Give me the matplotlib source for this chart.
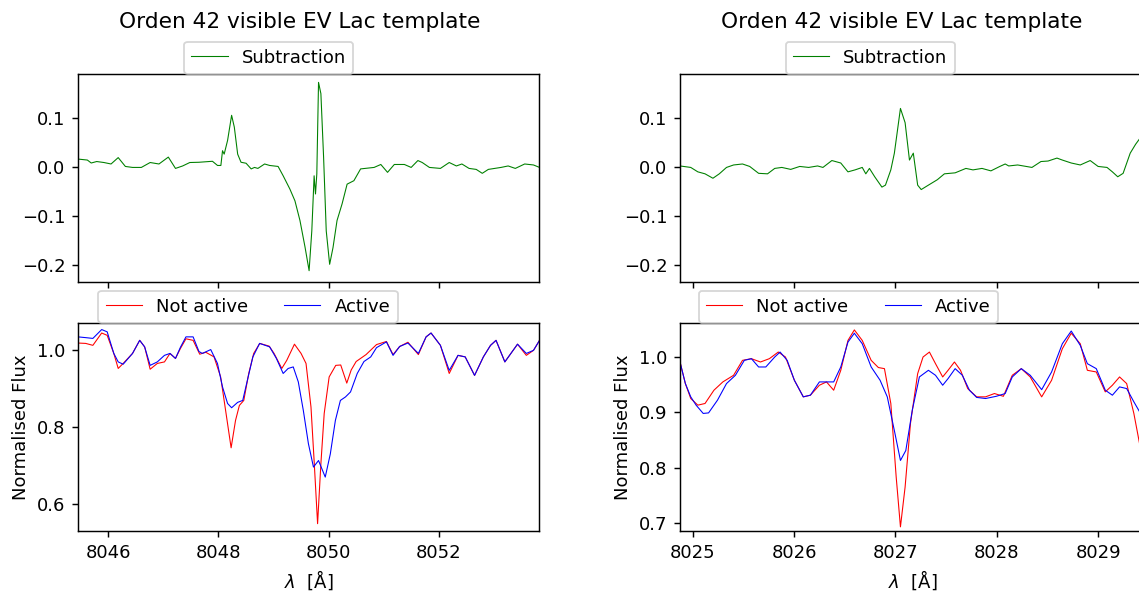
import matplotlib
matplotlib.use("Agg")
import matplotlib.pyplot as plt

# ---- Orden 42, left window (around 8050 A) ----
sub_left_wl = [8045.45, 8045.62, 8045.69, 8045.79, 8045.92, 8046.05, 8046.18, 8046.31, 8046.44, 8046.60,
               8046.76, 8046.92, 8047.09, 8047.22, 8047.35, 8047.48, 8047.646, 8047.891, 8047.983, 8048.044,
               8048.074, 8048.104, 8048.166, 8048.239, 8048.288, 8048.349, 8048.410, 8048.502, 8048.594, 8048.655,
               8048.716, 8048.838, 8048.930, 8049.083, 8049.175, 8049.297, 8049.389, 8049.480, 8049.572, 8049.646,
               8049.695, 8049.737, 8049.762, 8049.786, 8049.817, 8049.860, 8049.909, 8049.957, 8050.019, 8050.080,
               8050.153, 8050.245, 8050.336, 8050.459, 8050.581, 8050.826, 8050.948, 8051.070, 8051.193, 8051.376,
               8051.499, 8051.621, 8051.70, 8051.83, 8052.03, 8052.19, 8052.32, 8052.42, 8052.55, 8052.68,
               8052.79, 8052.90, 8053.13, 8053.26, 8053.39, 8053.56, 8053.72, 8053.83]
sub_left = [0.016, 0.014, 0.008, 0.011, 0.009, 0.006, 0.019, 0.001, -0.001, -0.001,
            0.009, 0.006, 0.020, -0.003, 0.002, 0.009, 0.0095, 0.0115, 0.003, 0.003,
            0.033, 0.026, 0.054, 0.105, 0.081, 0.026, 0.0095, 0.0075, -0.004, -0.001,
            -0.003, 0.006, 0.003, 0.001, -0.018, -0.045, -0.069, -0.109, -0.163, -0.211,
            -0.130, -0.018, -0.055, -0.014, 0.172, 0.149, 0.020, -0.130, -0.198, -0.164,
            -0.109, -0.075, -0.035, -0.028, -0.004, -0.001, 0.005, -0.011, 0.005, 0.005,
            -0.001, 0.013, 0.009, -0.001, -0.003, 0.009, 0.002, 0.006, -0.003, -0.005,
            -0.013, -0.005, -0.001, 0.002, -0.003, 0.006, 0.004, -0.001]

na_left_wl = [8045.45, 8045.59, 8045.72, 8045.88, 8045.98, 8046.10, 8046.18, 8046.27, 8046.44, 8046.57,
              8046.66, 8046.76, 8046.89, 8047.02, 8047.12, 8047.22, 8047.31, 8047.41, 8047.54, 8047.66,
              8047.77, 8047.92, 8048.04, 8048.13, 8048.23, 8048.31, 8048.38, 8048.46, 8048.55, 8048.64,
              8048.75, 8048.92, 8049.01, 8049.15, 8049.24, 8049.38, 8049.50, 8049.59, 8049.68, 8049.74,
              8049.80, 8049.86, 8049.92, 8050.01, 8050.13, 8050.22, 8050.33, 8050.41, 8050.50, 8050.68,
              8050.87, 8051.05, 8051.17, 8051.29, 8051.44, 8051.63, 8051.77, 8051.86, 8052.03, 8052.19,
              8052.35, 8052.48, 8052.65, 8052.81, 8052.94, 8053.04, 8053.20, 8053.43, 8053.59, 8053.72,
              8053.83]
na_left = [1.017, 1.016, 1.011, 1.043, 1.037, 0.990, 0.951, 0.964, 0.990, 1.024,
           1.007, 0.949, 0.964, 0.968, 0.990, 0.977, 1.003, 1.028, 1.024, 0.988,
           0.993, 0.981, 0.929, 0.842, 0.745, 0.816, 0.855, 0.868, 0.938, 0.990,
           1.016, 1.009, 0.990, 0.951, 0.972, 1.014, 0.990, 0.964, 0.851, 0.704,
           0.548, 0.704, 0.834, 0.929, 0.959, 0.960, 0.913, 0.947, 0.969, 0.987,
           1.013, 1.021, 0.987, 1.008, 1.019, 0.987, 1.033, 1.043, 1.011, 0.938,
           0.985, 0.981, 0.933, 0.981, 1.011, 1.024, 0.968, 1.014, 0.985, 0.998,
           1.024]

ac_left_wl = [8045.45, 8045.59, 8045.72, 8045.88, 8045.98, 8046.10, 8046.18, 8046.27, 8046.44, 8046.57,
              8046.66, 8046.76, 8046.89, 8047.02, 8047.12, 8047.22, 8047.31, 8047.41, 8047.54, 8047.646,
              8047.707, 8047.860, 8047.982, 8048.074, 8048.166, 8048.239, 8048.349, 8048.441, 8048.533, 8048.625,
              8048.747, 8048.930, 8049.052, 8049.175, 8049.266, 8049.358, 8049.450, 8049.541, 8049.633, 8049.725,
              8049.817, 8049.939, 8050.031, 8050.123, 8050.214, 8050.306, 8050.398, 8050.520, 8050.642, 8050.765,
              8050.87, 8051.05, 8051.17, 8051.29, 8051.44, 8051.63, 8051.77, 8051.86, 8052.03, 8052.19,
              8052.35, 8052.48, 8052.65, 8052.81, 8052.94, 8053.04, 8053.20, 8053.43, 8053.59, 8053.72,
              8053.83]
ac_left = [1.033, 1.031, 1.029, 1.052, 1.046, 0.990, 0.968, 0.962, 0.990, 1.024,
           1.007, 0.959, 0.968, 0.985, 0.990, 0.977, 1.006, 1.033, 1.033, 0.995,
           0.990, 1.000, 0.964, 0.903, 0.860, 0.849, 0.863, 0.868, 0.925, 0.981,
           1.016, 1.007, 0.977, 0.938, 0.951, 0.955, 0.916, 0.842, 0.756, 0.695,
           0.712, 0.669, 0.729, 0.816, 0.868, 0.877, 0.890, 0.938, 0.969, 0.981,
           1.005, 1.020, 0.985, 1.008, 1.017, 0.990, 1.033, 1.043, 1.011, 0.946,
           0.985, 0.981, 0.933, 0.981, 1.011, 1.024, 0.968, 1.014, 0.990, 0.998,
           1.024]

# ---- Orden 42, right window (around 8027 A) ----
sub_right_wl = [8024.873, 8024.979, 8025.049, 8025.120, 8025.198, 8025.261, 8025.332, 8025.402, 8025.490, 8025.561,
                8025.649, 8025.737, 8025.808, 8025.878, 8025.966, 8026.055, 8026.143, 8026.231, 8026.284, 8026.372,
                8026.460, 8026.531, 8026.601, 8026.672, 8026.707, 8026.743, 8026.795, 8026.866, 8026.901, 8026.954,
                8026.989, 8027.049, 8027.095, 8027.138, 8027.176, 8027.219, 8027.254, 8027.325, 8027.413, 8027.483,
                8027.589, 8027.695, 8027.765, 8027.854, 8027.942, 8028.030, 8028.083, 8028.118, 8028.206, 8028.347,
                8028.436, 8028.506, 8028.594, 8028.647, 8028.735, 8028.824, 8028.922, 8029.000, 8029.088, 8029.141,
                8029.194, 8029.247, 8029.317, 8029.370, 8029.416, 8029.46]
sub_right = [0.002, -0.001, -0.010, -0.014, -0.023, -0.014, -0.001, 0.004, 0.006, 0.001,
             -0.013, -0.014, -0.003, -0.001, -0.005, 0.001, -0.001, 0.002, -0.001, 0.013,
             0.008, -0.010, -0.006, -0.001, -0.014, -0.003, -0.020, -0.041, -0.037, -0.006,
             0.028, 0.119, 0.090, 0.014, 0.028, -0.037, -0.046, -0.037, -0.026, -0.014,
             -0.012, -0.003, -0.006, -0.003, -0.008, 0.001, 0.006, 0.002, 0.004, -0.001,
             0.011, 0.012, 0.018, 0.014, 0.008, 0.004, 0.013, 0.001, -0.001, -0.010,
             -0.020, -0.013, 0.028, 0.046, 0.059, 0.066]

na_right_wl = [8024.873, 8024.926, 8024.979, 8025.049, 8025.120, 8025.208, 8025.296, 8025.402, 8025.490, 8025.578,
               8025.667, 8025.755, 8025.843, 8025.914, 8026.002, 8026.090, 8026.160, 8026.249, 8026.319, 8026.390,
               8026.460, 8026.531, 8026.594, 8026.672, 8026.760, 8026.831, 8026.891, 8026.954, 8027.007, 8027.049,
               8027.095, 8027.148, 8027.219, 8027.272, 8027.335, 8027.395, 8027.466, 8027.519, 8027.582, 8027.642,
               8027.713, 8027.801, 8027.889, 8027.977, 8028.065, 8028.153, 8028.242, 8028.330, 8028.443, 8028.541,
               8028.647, 8028.735, 8028.824, 8028.894, 8028.982, 8029.071, 8029.141, 8029.212, 8029.282, 8029.353,
               8029.416, 8029.46]
na_right = [0.991, 0.952, 0.925, 0.913, 0.916, 0.940, 0.955, 0.967, 0.994, 0.997,
            0.991, 0.997, 1.009, 1.000, 0.958, 0.928, 0.931, 0.949, 0.955, 0.940,
            0.976, 1.030, 1.049, 1.030, 0.994, 0.981, 0.979, 0.916, 0.783, 0.693,
            0.765, 0.880, 0.970, 1.000, 1.009, 0.988, 0.964, 0.976, 0.991, 0.976,
            0.943, 0.928, 0.928, 0.934, 0.929, 0.967, 0.979, 0.964, 0.928, 0.958,
            1.015, 1.043, 1.024, 0.976, 0.973, 0.937, 0.949, 0.964, 0.952, 0.898,
            0.837, 0.800]

ac_right_wl = [8024.873, 8024.926, 8024.979, 8025.032, 8025.102, 8025.155, 8025.243, 8025.332, 8025.420, 8025.508,
               8025.578, 8025.649, 8025.720, 8025.808, 8025.861, 8025.931, 8026.002, 8026.090, 8026.160, 8026.249,
               8026.319, 8026.390, 8026.460, 8026.531, 8026.594, 8026.672, 8026.760, 8026.848, 8026.919, 8026.989,
               8027.049, 8027.102, 8027.166, 8027.236, 8027.325, 8027.395, 8027.466, 8027.519, 8027.589, 8027.660,
               8027.730, 8027.801, 8027.889, 8027.995, 8028.083, 8028.153, 8028.242, 8028.330, 8028.443, 8028.541,
               8028.647, 8028.735, 8028.824, 8028.894, 8028.982, 8029.071, 8029.141, 8029.212, 8029.282, 8029.353,
               8029.416, 8029.46]
ac_right = [0.991, 0.952, 0.928, 0.913, 0.898, 0.899, 0.922, 0.952, 0.967, 0.994,
            0.997, 0.982, 0.982, 1.000, 1.009, 0.994, 0.958, 0.928, 0.931, 0.955,
            0.955, 0.955, 0.982, 1.027, 1.043, 1.024, 0.982, 0.958, 0.928, 0.867,
            0.813, 0.831, 0.904, 0.964, 0.976, 0.967, 0.949, 0.961, 0.979, 0.967,
            0.940, 0.927, 0.925, 0.929, 0.934, 0.964, 0.979, 0.967, 0.941, 0.973,
            1.024, 1.047, 1.021, 0.988, 0.979, 0.940, 0.931, 0.946, 0.943, 0.919,
            0.899, 0.885]

title = "Orden 42 visible EV Lac template"

W, H = 1139, 592
dpi = 130
fig = plt.figure(figsize=(W / dpi, H / dpi), dpi=dpi)


def frac(x0, y0, x1, y1):
    # pixel box (top-left origin) -> figure fraction rect
    return [x0 / W, 1 - y1 / H, (x1 - x0) / W, (y1 - y0) / H]


panels = [
    dict(x0=78, x1=539, xlim=(8045.45, 8053.82), sub=(sub_left_wl, sub_left),
         na=(na_left_wl, na_left), ac=(ac_left_wl, ac_left), ylim=(0.529, 1.069),
         yticks=[0.6, 0.8, 1.0], xticks=[8046, 8048, 8050, 8052], leg1=0.414, leg2=0.369, tx=300),
    dict(x0=680, x1=1145, xlim=(8024.873, 8029.463), sub=(sub_right_wl, sub_right),
         na=(na_right_wl, na_right), ac=(ac_right_wl, ac_right), ylim=(0.6855, 1.0615),
         yticks=[0.7, 0.8, 0.9, 1.0], xticks=[8025, 8026, 8027, 8028, 8029], leg1=0.409, leg2=0.362, tx=902),
]

for p in panels:
    ax_top = fig.add_axes(frac(p["x0"], 74, p["x1"], 282))
    ax_bot = fig.add_axes(frac(p["x0"], 323, p["x1"], 531))

    ax_top.plot(*p["sub"], color="green", lw=0.6, label="Subtraction")
    ax_top.set_xlim(*p["xlim"])
    ax_top.set_ylim(-0.234, 0.189)
    ax_top.set_yticks([-0.2, -0.1, 0.0, 0.1])
    ax_top.set_xticks(p["xticks"])
    ax_top.tick_params(labelbottom=False)
    ax_top.legend(loc="lower center", bbox_to_anchor=(p["leg1"], 1.0), borderaxespad=0.0)

    ax_bot.plot(*p["na"], color="red", lw=0.6, label="Not active")
    ax_bot.plot(*p["ac"], color="blue", lw=0.6, label="Active")
    ax_bot.set_xlim(*p["xlim"])
    ax_bot.set_ylim(*p["ylim"])
    ax_bot.set_yticks(p["yticks"])
    ax_bot.set_xticks(p["xticks"])
    ax_bot.set_xlabel(r"$\lambda$  [Å]")
    ax_bot.set_ylabel("Normalised Flux")
    ax_bot.legend(loc="lower center", bbox_to_anchor=(p["leg2"], 1.0), ncol=2,
                  borderaxespad=0.0, columnspacing=2.0)

    fig.text(p["tx"] / W, 1 - 22 / H, title, ha="center", va="center", fontsize=12)

fig.savefig("out.png", dpi=dpi)
